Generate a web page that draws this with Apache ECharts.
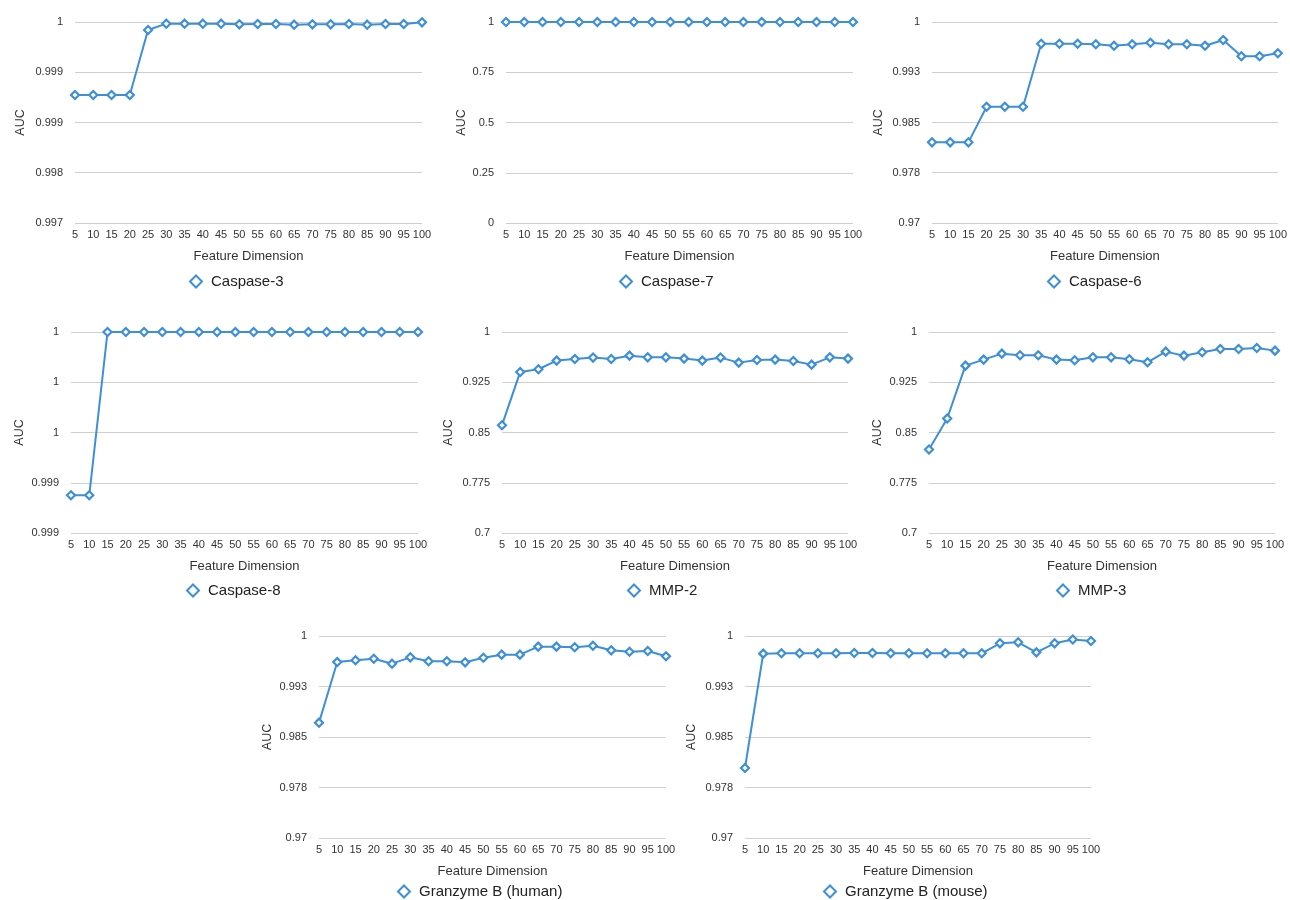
<!DOCTYPE html>
<html>
<head>
<meta charset="utf-8">
<title>AUC vs Feature Dimension</title>
<script src="https://cdn.jsdelivr.net/npm/echarts@6/dist/echarts.min.js"></script>
<style>
  html, body { margin: 0; padding: 0; background: #ffffff; }
  #chart { width: 1290px; height: 900px; }
</style>
</head>
<body>
<div id="chart"></div>
<script>
// Feature dimensions shared by every panel
const dims = ['5','10','15','20','25','30','35','40','45','50','55','60','65','70','75','80','85','90','95','100'];

// AUC per feature dimension for each target
const caspase3 = [0.99891,0.99891,0.99891,0.99891,0.99988,0.999975,0.999975,0.999975,0.999975,0.999965,0.99997,0.99997,0.99996,0.999965,0.999965,0.99997,0.99996,0.99997,0.99997,0.999995];
const caspase7 = [1,1,1,1,1,1,1,1,1,1,1,1,1,1,1,1,1,1,1,1];
const caspase6 = [0.98204,0.98204,0.98204,0.98736,0.98736,0.98736,0.99676,0.99676,0.99676,0.99667,0.99646,0.99667,0.99691,0.99667,0.99667,0.99646,0.99731,0.99488,0.99488,0.99533];
const caspase8 = [0.99935,0.99935,1,1,1,1,1,1,1,1,1,1,1,1,1,1,1,1,1,1];
const mmp2 = [0.8609,0.9404,0.9444,0.9573,0.9598,0.9618,0.9598,0.9647,0.9622,0.9622,0.9603,0.9573,0.9618,0.9543,0.9583,0.9588,0.9568,0.9513,0.9622,0.9603];
const mmp3 = [0.8247,0.8709,0.9498,0.9588,0.9677,0.9652,0.9652,0.9588,0.9578,0.9622,0.9622,0.9593,0.9548,0.9707,0.9647,0.9697,0.9747,0.9747,0.9762,0.9722];
const granzymeHuman = [0.98713,0.99614,0.99639,0.99663,0.99589,0.99683,0.99624,0.99624,0.99609,0.99678,0.99723,0.99723,0.99842,0.99842,0.99832,0.99856,0.99787,0.99767,0.99777,0.99699];
const granzymeMouse = [0.9804,0.99738,0.99743,0.99743,0.99743,0.99743,0.99748,0.99748,0.99743,0.99743,0.99743,0.99743,0.99743,0.99743,0.99891,0.99906,0.99757,0.99891,0.99947,0.99926];

// Y tick labels, bottom to top
const ticksCasp3 = ['0.997','0.998','0.999','0.999','1'];
const ticksCasp7 = ['0','0.25','0.5','0.75','1'];
const ticksCasp6 = ['0.97','0.978','0.985','0.993','1'];
const ticksCasp8 = ['0.999','0.999','1','1','1'];
const ticksMMP = ['0.7','0.775','0.85','0.925','1'];
const ticksGzm = ['0.97','0.978','0.985','0.993','1'];

const panels = [
  { name: 'Caspase-3', data: caspase3, min: 0.997, max: 1, step: 0.00075, ticks: ticksCasp3,
    left: 75, top: 22, width: 347, height: 201, nameGap: 48, legendX: 184, legendY: 278 },
  { name: 'Caspase-7', data: caspase7, min: 0, max: 1, step: 0.25, ticks: ticksCasp7,
    left: 506, top: 22, width: 347, height: 201, nameGap: 38, legendX: 614, legendY: 278 },
  { name: 'Caspase-6', data: caspase6, min: 0.97, max: 1, step: 0.0075, ticks: ticksCasp6,
    left: 932, top: 22, width: 346, height: 201, nameGap: 47, legendX: 1042, legendY: 278 },
  { name: 'Caspase-8', data: caspase8, min: 0.9992, max: 1, step: 0.0002, ticks: ticksCasp8,
    left: 71, top: 332, width: 347, height: 201, nameGap: 45, legendX: 181, legendY: 587 },
  { name: 'MMP-2', data: mmp2, min: 0.7, max: 1, step: 0.075, ticks: ticksMMP,
    left: 502, top: 332, width: 346, height: 201, nameGap: 47, legendX: 622, legendY: 587 },
  { name: 'MMP-3', data: mmp3, min: 0.7, max: 1, step: 0.075, ticks: ticksMMP,
    left: 929, top: 332, width: 346, height: 201, nameGap: 45, legendX: 1051, legendY: 587 },
  { name: 'Granzyme B (human)', data: granzymeHuman, min: 0.97, max: 1, step: 0.0075, ticks: ticksGzm,
    left: 319, top: 636, width: 347, height: 202, nameGap: 45, legendX: 392, legendY: 888 },
  { name: 'Granzyme B (mouse)', data: granzymeMouse, min: 0.97, max: 1, step: 0.0075, ticks: ticksGzm,
    left: 745, top: 636, width: 346, height: 202, nameGap: 47, legendX: 818, legendY: 888 }
];

const BLUE = '#3d8fd6';
const FONT = '"Liberation Sans", Arial, Helvetica, sans-serif';
const GRID_LINE = '#cfcfcf';

const option = {
  backgroundColor: '#ffffff',
  animation: false,
  textStyle: { fontFamily: FONT },
  grid: [], xAxis: [], yAxis: [], series: [], legend: []
};

panels.forEach((p, i) => {
  option.grid.push({ left: p.left, top: p.top, width: p.width, height: p.height, containLabel: false });
  option.xAxis.push({
    type: 'category', gridIndex: i, data: dims, boundaryGap: false,
    name: 'Feature Dimension', nameLocation: 'middle', nameGap: 27,
    nameTextStyle: { fontSize: 13, color: '#333', fontFamily: FONT },
    axisLine: { show: false }, axisTick: { show: false },
    axisLabel: { interval: 0, fontSize: 11, color: '#333', margin: 6, fontFamily: FONT },
    splitLine: { show: false }
  });
  option.yAxis.push({
    type: 'value', gridIndex: i, min: p.min, max: p.max, interval: p.step,
    name: 'AUC', nameLocation: 'middle', nameGap: p.nameGap, nameRotate: 90,
    nameTextStyle: { fontSize: 12.5, color: '#333', fontFamily: FONT },
    axisLine: { show: false }, axisTick: { show: false },
    axisLabel: { fontSize: 11, color: '#333', margin: 12, fontFamily: FONT,
      formatter: (v, idx) => p.ticks[idx] },
    splitLine: { show: true, lineStyle: { color: GRID_LINE, width: 1 } }
  });
  option.series.push({
    name: p.name, type: 'line', xAxisIndex: i, yAxisIndex: i, data: p.data,
    symbol: 'diamond', symbolSize: 8, showAllSymbol: true,
    lineStyle: { color: BLUE, width: 2 },
    itemStyle: { color: '#ffffff', borderColor: BLUE, borderWidth: 2.2 },
    clip: false
  });
  option.legend.push({
    data: [{ name: p.name, icon: 'diamond' }],
    left: p.legendX, top: p.legendY - 9,
    itemWidth: 12, itemHeight: 12, itemGap: 8,
    itemStyle: { color: '#ffffff', borderColor: BLUE, borderWidth: 2 },
    textStyle: { fontSize: 15, color: '#222', fontFamily: FONT, padding: [0, 0, 0, 4] }
  });
});

const chart = echarts.init(document.getElementById('chart'), null, { renderer: 'canvas' });
chart.setOption(option);
</script>
</body>
</html>
